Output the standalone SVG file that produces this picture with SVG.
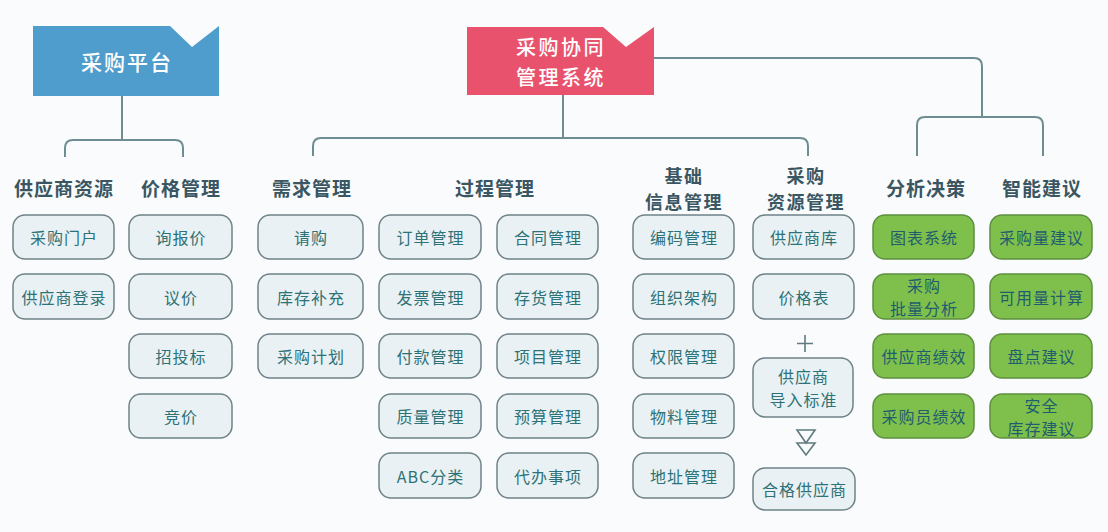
<svg xmlns="http://www.w3.org/2000/svg" width="1108" height="532" viewBox="0 0 1108 532">
<style>
text{font-family:"Noto Sans CJK SC","Noto Sans",sans-serif;text-anchor:middle;dominant-baseline:central}
.hd{fill:#ffffff;font-size:21px;font-weight:500;letter-spacing:2px}
.hd2{fill:#ffffff;font-size:20px;font-weight:500;letter-spacing:2.5px}
.cat{fill:#3a5662;font-size:19px;font-weight:700;letter-spacing:1px}
.cat2{fill:#3a5662;font-size:18px;font-weight:700;letter-spacing:1.5px}
.nb rect{fill:#e9f1f4;stroke:#6e8288;stroke-width:1.5}
.nb text{fill:#2d7276;font-size:16px;letter-spacing:1px}
.ng rect{fill:#7fc04c;stroke:#5e8f40;stroke-width:1.5}
.ng text{fill:#1f5d6e;font-size:16px;letter-spacing:1px}
.cn{fill:none;stroke:#6e8d92;stroke-width:2}
.sym{fill:none;stroke:#5f7a80;stroke-width:1.6}
</style>
<rect width="1108" height="532" fill="#f9fbfc"/>
<g id="connectors">
<path class="cn" d="M122,96 V140 M65,157 V148 Q65,140 73,140 H175 Q183,140 183,148 V157"/>
<path class="cn" d="M563,95 V138 M313,156 V146 Q313,138 321,138 H800 Q808,138 808,146 V156"/>
<path class="cn" d="M654,58 H974 Q982,58 982,66 V117 M917,156 V125 Q917,117 925,117 H1035 Q1043,117 1043,125 V156"/>
</g>
<g id="hdr-platform">
<polygon points="33,26 170,26 192,47 219,26 219,96 33,96" fill="#4f9dcc"/>
<text class="hd" x="127" y="61">采购平台</text>
</g>
<g id="hdr-system">
<polygon points="467,27 603,27 626,47 654,27 654,95 467,95" fill="#e8526d"/>
<text class="hd2" x="561" y="46.5">采购协同</text>
<text class="hd2" x="561" y="76">管理系统</text>
</g>
<g id="categories">
<text class="cat" x="64" y="187">供应商资源</text>
<text class="cat" x="181" y="187">价格管理</text>
<text class="cat" x="312" y="187">需求管理</text>
<text class="cat" x="495" y="187">过程管理</text>
<text class="cat2" x="684" y="175">基础</text>
<text class="cat2" x="684" y="201.3">信息管理</text>
<text class="cat2" x="806" y="175">采购</text>
<text class="cat2" x="806" y="201.3">资源管理</text>
<text class="cat" x="926" y="187">分析决策</text>
<text class="cat" x="1042" y="187">智能建议</text>
</g>
<g id="n-portal" class="nb"><rect x="13" y="215" width="101" height="44" rx="12"/><text x="64" y="237">采购门户</text></g>
<g id="n-login" class="nb"><rect x="13" y="274" width="101" height="45" rx="12"/><text x="64" y="296.5">供应商登录</text></g>
<g id="n-inquiry" class="nb"><rect x="129" y="215" width="103" height="44" rx="12"/><text x="181" y="237">询报价</text></g>
<g id="n-negotiate" class="nb"><rect x="129" y="274" width="103" height="45" rx="12"/><text x="181" y="296.5">议价</text></g>
<g id="n-bid" class="nb"><rect x="129" y="334" width="103" height="44" rx="12"/><text x="181" y="356">招投标</text></g>
<g id="n-auction" class="nb"><rect x="129" y="394" width="103" height="44" rx="12"/><text x="181" y="416">竞价</text></g>
<g id="n-request" class="nb"><rect x="258" y="215" width="105" height="44" rx="12"/><text x="311" y="237">请购</text></g>
<g id="n-replenish" class="nb"><rect x="258" y="274" width="105" height="45" rx="12"/><text x="311" y="296.5">库存补充</text></g>
<g id="n-plan" class="nb"><rect x="258" y="334" width="105" height="44" rx="12"/><text x="311" y="356">采购计划</text></g>
<g id="n-order" class="nb"><rect x="379" y="215" width="102" height="44" rx="12"/><text x="430.5" y="237">订单管理</text></g>
<g id="n-invoice" class="nb"><rect x="379" y="274" width="102" height="45" rx="12"/><text x="430.5" y="296.5">发票管理</text></g>
<g id="n-payment" class="nb"><rect x="379" y="334" width="102" height="44" rx="12"/><text x="430.5" y="356">付款管理</text></g>
<g id="n-quality" class="nb"><rect x="379" y="394" width="102" height="44" rx="12"/><text x="430.5" y="416">质量管理</text></g>
<g id="n-abc" class="nb"><rect x="379" y="453" width="102" height="45" rx="12"/><text x="430.5" y="475.5">ABC分类</text></g>
<g id="n-contract" class="nb"><rect x="497" y="215" width="101" height="44" rx="12"/><text x="548" y="237">合同管理</text></g>
<g id="n-stock" class="nb"><rect x="497" y="274" width="101" height="45" rx="12"/><text x="548" y="296.5">存货管理</text></g>
<g id="n-project" class="nb"><rect x="497" y="334" width="101" height="44" rx="12"/><text x="548" y="356">项目管理</text></g>
<g id="n-budget" class="nb"><rect x="497" y="394" width="101" height="44" rx="12"/><text x="548" y="416">预算管理</text></g>
<g id="n-todo" class="nb"><rect x="497" y="453" width="101" height="45" rx="12"/><text x="548" y="475.5">代办事项</text></g>
<g id="n-code" class="nb"><rect x="633" y="215" width="101" height="44" rx="12"/><text x="684" y="237">编码管理</text></g>
<g id="n-org" class="nb"><rect x="633" y="274" width="101" height="45" rx="12"/><text x="684" y="296.5">组织架构</text></g>
<g id="n-perm" class="nb"><rect x="633" y="334" width="101" height="44" rx="12"/><text x="684" y="356">权限管理</text></g>
<g id="n-material" class="nb"><rect x="633" y="394" width="101" height="44" rx="12"/><text x="684" y="416">物料管理</text></g>
<g id="n-address" class="nb"><rect x="633" y="453" width="101" height="45" rx="12"/><text x="684" y="475.5">地址管理</text></g>
<g id="n-suplib" class="nb"><rect x="753" y="215" width="101" height="44" rx="12"/><text x="804" y="237">供应商库</text></g>
<g id="n-pricelist" class="nb"><rect x="753" y="274" width="101" height="45" rx="12"/><text x="804" y="296.5">价格表</text></g>
<g id="plus"><path class="sym" d="M805,335 V352 M797,343.5 H813"/></g>
<g id="n-std" class="nb"><rect x="753" y="358" width="100" height="59" rx="12"/><text x="803.5" y="376">供应商</text><text x="803.5" y="399">导入标准</text></g>
<g id="arrow-sym"><path class="sym" d="M797,430 H815 L806,443 Z M797,443 H815 L806,455 Z"/></g>
<g id="n-qualified" class="nb"><rect x="753" y="468" width="102" height="42" rx="12"/><text x="804.5" y="489">合格供应商</text></g>
<g id="n-chart" class="ng"><rect x="873" y="215" width="101" height="44" rx="12"/><text x="924" y="237">图表系统</text></g>
<g id="n-batch" class="ng"><rect x="873" y="274" width="101" height="45" rx="12"/><text x="924" y="285">采购</text><text x="924" y="308">批量分析</text></g>
<g id="n-supperf" class="ng"><rect x="873" y="334" width="101" height="44" rx="12"/><text x="924" y="356">供应商绩效</text></g>
<g id="n-buyerperf" class="ng"><rect x="873" y="394" width="101" height="44" rx="12"/><text x="924" y="416">采购员绩效</text></g>
<g id="n-qty" class="ng"><rect x="990" y="215" width="102" height="44" rx="12"/><text x="1041.5" y="237">采购量建议</text></g>
<g id="n-avail" class="ng"><rect x="990" y="274" width="102" height="45" rx="12"/><text x="1041.5" y="296.5">可用量计算</text></g>
<g id="n-count" class="ng"><rect x="990" y="334" width="102" height="44" rx="12"/><text x="1041.5" y="356">盘点建议</text></g>
<g id="n-safety" class="ng"><rect x="990" y="394" width="102" height="44" rx="12"/><text x="1041.5" y="404.5">安全</text><text x="1041.5" y="427.5">库存建议</text></g>
</svg>
